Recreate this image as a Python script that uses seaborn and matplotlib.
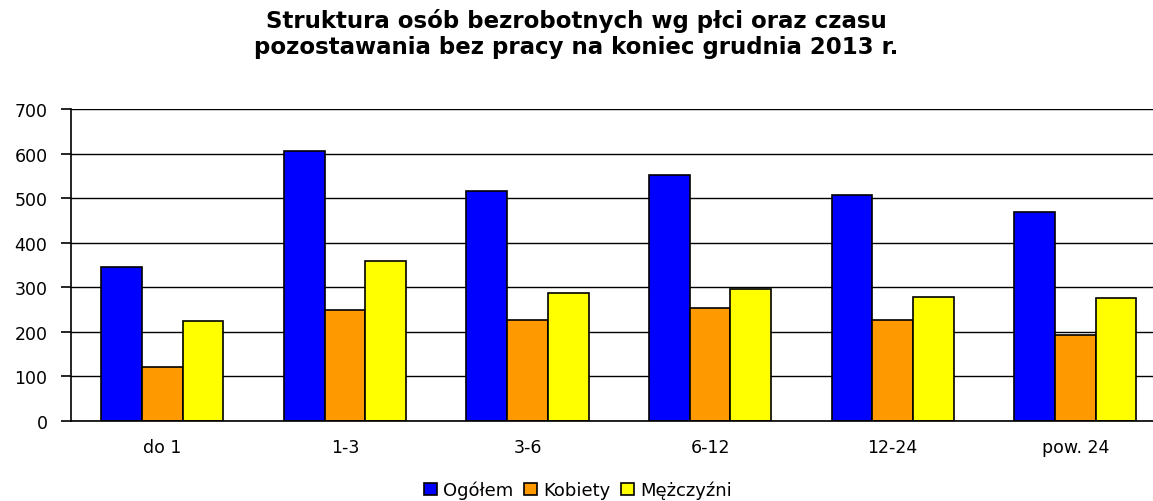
import matplotlib
matplotlib.use('Agg')
import matplotlib.pyplot as plt
import seaborn as sns
import pandas as pd
import numpy as np

# dane
okresy = ['do 1', '1-3', '3-6', '6-12', '12-24', 'pow. 24']
ogolem = [345, 606, 515, 551, 506, 470]
kobiety = [121, 248, 227, 254, 227, 194]
mezczyzni = [225, 358, 288, 297, 279, 275]
serie = ['Ogółem', 'Kobiety', 'Mężczyźni']
kolory = ['#0000FF', '#FF9900', '#FFFF00']

df = pd.DataFrame({
    'okres': okresy * 3,
    'plec': [serie[0]] * 6 + [serie[1]] * 6 + [serie[2]] * 6,
    'liczba': ogolem + kobiety + mezczyzni,
})

sns.set_style('white')
plt.rcParams['font.family'] = ['DejaVu Sans']
plt.rcParams['text.color'] = 'black'
plt.rcParams['xtick.color'] = 'black'
plt.rcParams['ytick.color'] = 'black'

fig = plt.figure(figsize=(11.53, 5.02), dpi=100)
ax = fig.add_axes([71 / 1153, 80 / 502, (1166.6 - 71) / 1153, 312 / 502])

sns.barplot(data=df, x='okres', y='liczba', hue='plec', order=okresy,
            hue_order=serie, palette=kolory, edgecolor='black', linewidth=1.2,
            width=0.67, gap=0, saturation=1, ax=ax, legend=True)

ax.set_ylim(0, 700)
ax.set_xlim(-0.5, 5.5)
ax.set_yticks(np.arange(0, 701, 100))
ax.yaxis.grid(True, color='black', linewidth=1)
ax.set_axisbelow(True)
ax.set_xlabel('')
ax.set_ylabel('')

for s in ['top', 'right']:
    ax.spines[s].set_visible(False)
for s in ['left', 'bottom']:
    ax.spines[s].set_color('black')
    ax.spines[s].set_linewidth(1.2)

ax.set_xticks(np.arange(-0.5, 6, 1), minor=True)
ax.tick_params(axis='x', which='major', length=0, pad=12, labelsize=12.5)
ax.tick_params(axis='x', which='minor', length=6, width=1.2, color='black', direction='out')
ax.tick_params(axis='y', length=7, width=1.2, color='black', direction='out',
               pad=10, labelsize=12.5, left=True)

leg = ax.legend(loc='center', bbox_to_anchor=(578 / 1153, 11 / 502),
                bbox_transform=fig.transFigure, ncol=3, frameon=False,
                fontsize=13, handlelength=0.7, handleheight=0.7,
                handletextpad=0.35, columnspacing=0.6)

fig.text(0.5, 1 - 34 / 502,
         'Struktura osób bezrobotnych wg płci oraz czasu\npozostawania bez pracy na koniec grudnia 2013 r.',
         ha='center', va='center', fontsize=16.5, fontweight='bold', linespacing=1.2)

fig.savefig('out.png', dpi=100)
